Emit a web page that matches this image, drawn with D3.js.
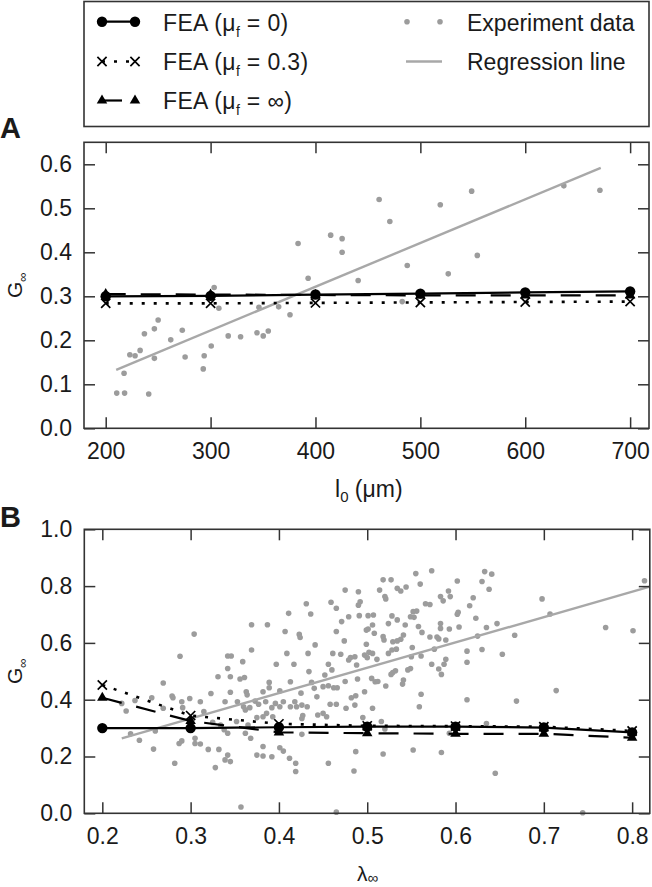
<!DOCTYPE html>
<html><head><meta charset="utf-8">
<script src="https://cdn.jsdelivr.net/npm/d3@7"></script>
<style>
body{margin:0;background:#fff}
svg{display:block}
text{font-family:"Liberation Sans",Arial,Helvetica,sans-serif;fill:#1a1a1a}
</style>
</head><body>
<svg id="c" width="652" height="887"></svg>
<script>
// ---------------- Panel A data ----------------
const aTicksX = [200, 300, 400, 500, 600, 700];
const aTicksY = [0, 0.1, 0.2, 0.3, 0.4, 0.5, 0.6];
const aFeaX   = [200, 300, 400, 500, 600, 700];
const aFea0   = [0.300, 0.301, 0.304, 0.306, 0.309, 0.311];
const aFea03  = [0.284, 0.284, 0.285, 0.286, 0.287, 0.288];
const aFeaInf = [0.305, 0.304, 0.303, 0.302, 0.302, 0.302];
const aExpX = [210.5,218,217.5,223,228,232.8,236.9,241,246.4,246.4,250,262,273,275.7,293,293.9,300.6,303.4,307.9,316.8,328.6,344.2,346.1,350.2,355,364.9,375.7,383.4,393,414.5,425.4,425.4,440.7,460.7,470.9,487.5,482.7,519,526.6,548.9,554.3,636.8,671.2];
const aExpY = [0.080,0.080,0.125,0.167,0.165,0.177,0.215,0.078,0.226,0.159,0.246,0.201,0.223,0.162,0.135,0.165,0.187,0.320,0.273,0.210,0.208,0.217,0.275,0.210,0.221,0.276,0.258,0.420,0.341,0.439,0.431,0.400,0.336,0.520,0.470,0.370,0.288,0.508,0.351,0.539,0.393,0.551,0.541];
const aRegX = [210, 672];
const aRegY = [0.133, 0.592];

// ---------------- Panel B data ----------------
const bTicksX = [0.2, 0.3, 0.4, 0.5, 0.6, 0.7, 0.8];
const bTicksY = [0, 0.2, 0.4, 0.6, 0.8, 1.0];
const bFeaX   = [0.2, 0.3, 0.4, 0.5, 0.6, 0.7, 0.8];
const bFea0   = [0.300, 0.300, 0.303, 0.305, 0.305, 0.302, 0.285];
const bFea03  = [0.452, 0.344, 0.315, 0.308, 0.307, 0.305, 0.290];
const bFeaInf = [0.407, 0.325, 0.285, 0.282, 0.280, 0.280, 0.266];
const bExpX = [
0.304,0.288,0.269,0.256,0.237,0.227,0.222,0.279,0.280,0.269,0.290,0.291,0.299,0.311,0.323,0.331,0.342,0.346,0.342,0.345,0.345,0.339,0.315,0.325,0.334,0.338,0.342,0.242,0.232,0.260,0.258,0.287,0.290,0.305,0.311,0.305,0.320,0.332,0.339,0.345,0.342,0.328,0.282,
0.369,0.387,0.369,0.359,0.361,0.356,0.363,0.364,0.360,0.362,0.367,0.373,0.353,0.382,0.385,0.389,0.389,0.397,0.401,0.405,0.407,0.411,0.409,0.413,0.417,0.423,0.424,0.431,0.436,0.433,0.434,0.441,0.437,0.440,0.443,0.425,0.418,0.413,0.420,0.426,0.432,0.392,0.393,0.386,0.401,0.396,0.377,0.375,0.382,0.352,0.365,0.362,0.368,0.382,0.375,0.382,0.392,0.401,0.405,0.412,0.419,0.419,0.426,0.427,0.426,0.357,0.444,0.450,0.454,0.458,0.465,0.450,0.456,0.462,0.466,0.452,0.460,0.456,0.461,0.465,0.459,0.465,0.471,0.475,0.479,0.474,0.470,0.475,0.479,0.481,0.486,0.488,0.489,0.482,0.487,0.497,0.476,0.486,0.456,0.485,0.487,0.465,0.490,0.490,0.492,0.491,0.501,0.499,0.501,0.499,0.502,0.497,0.500,0.495,
0.507,0.506,0.508,0.506,0.511,0.505,0.509,0.518,0.527,0.514,0.520,0.521,0.534,0.538,0.544,0.555,0.560,0.573,0.566,0.571,0.583,0.586,0.592,0.594,0.602,0.602,0.603,0.616,0.620,0.623,0.630,0.633,0.641,0.638,0.647,0.635,0.625,0.613,0.613,0.604,0.593,0.583,0.583,0.579,0.581,0.589,0.589,0.587,0.581,0.584,0.573,0.571,0.576,0.562,0.558,0.553,0.556,0.549,0.552,0.543,0.534,0.524,0.528,0.518,0.519,0.529,0.534,0.538,0.541,0.551,0.561,0.550,0.549,0.546,0.541,0.540,0.532,0.529,0.527,0.524,0.528,0.533,0.521,0.512,0.506,0.561,0.559,0.613,0.630,0.653,0.516,0.520,0.552,0.518,0.584,0.593,0.635,0.645,
0.667,0.698,0.707,0.714,0.669,0.770,0.801,0.814,0.744];
const bExpY = [
0.631,0.553,0.459,0.407,0.397,0.360,0.387,0.413,0.407,0.370,0.393,0.372,0.404,0.393,0.422,0.481,0.554,0.554,0.510,0.481,0.426,0.393,0.358,0.320,0.311,0.294,0.282,0.257,0.280,0.290,0.226,0.246,0.255,0.246,0.244,0.264,0.225,0.225,0.188,0.182,0.205,0.161,0.176,
0.664,0.664,0.575,0.534,0.478,0.473,0.428,0.417,0.375,0.364,0.372,0.395,0.393,0.428,0.393,0.442,0.461,0.525,0.431,0.393,0.640,0.704,0.563,0.463,0.525,0.630,0.619,0.738,0.702,0.563,0.499,0.593,0.461,0.440,0.410,0.423,0.393,0.375,0.375,0.381,0.375,0.372,0.340,0.352,0.375,0.387,0.384,0.337,0.340,0.323,0.311,0.282,0.264,0.235,0.205,0.202,0.199,0.231,0.219,0.194,0.176,0.147,0.334,0.344,0.278,0.022,0.346,0.352,0.340,0.384,0.384,0.446,0.449,0.442,0.442,0.487,0.505,0.525,0.563,0.640,0.743,0.722,0.675,0.786,0.692,0.607,0.560,0.464,0.540,0.548,0.551,0.522,0.473,0.407,0.414,0.428,0.370,0.381,0.176,0.149,0.217,0.004,0.780,0.733,0.745,0.696,0.696,0.645,0.649,0.595,0.567,0.557,0.548,0.337,
0.698,0.663,0.634,0.563,0.542,0.475,0.463,0.822,0.822,0.786,0.763,0.755,0.792,0.783,0.797,0.844,0.807,0.854,0.738,0.735,0.763,0.748,0.783,0.763,0.818,0.701,0.708,0.731,0.759,0.687,0.816,0.851,0.842,0.789,0.668,0.654,0.624,0.571,0.532,0.656,0.649,0.668,0.651,0.621,0.614,0.610,0.542,0.525,0.508,0.489,0.525,0.621,0.578,0.637,0.658,0.690,0.712,0.692,0.710,0.663,0.681,0.668,0.695,0.622,0.610,0.604,0.607,0.613,0.628,0.584,0.554,0.551,0.510,0.505,0.469,0.455,0.502,0.496,0.489,0.563,0.575,0.578,0.448,0.464,0.370,0.419,0.375,0.400,0.577,0.560,0.323,0.297,0.223,0.209,0.214,0.282,0.316,0.141,
0.627,0.755,0.702,0.432,0.395,0.654,0.643,0.819,0.002];
const bRegX = [0.222, 0.82];
const bRegY = [0.264, 0.798];

// ---------------- Legend entries ----------------
const legendLeft  = [{label: " = 0)", kind: "fea0"}, {label: " = 0.3)", kind: "fea03"}, {label: " = \u221E)", kind: "feaInf"}];
const legendRight = [{label: "Experiment data", kind: "exp"}, {label: "Regression line", kind: "reg"}];

// ---------------- Drawing ----------------
const svg = d3.select('#c');
const FONT = '"Liberation Sans",Arial,Helvetica,sans-serif';
const INK = '#1a1a1a', FRAME = '#333', DOT = '#9c9c9c', REG = '#a8a8a8';

const styles = {
  fea0:   {dash: null,    width: 2.2},
  fea03:  {dash: '3,9',   width: 2.6},
  feaInf: {dash: '20,15', width: 2.2}
};

function marker(g, kind, cx, cy) {
  if (kind === 'fea0') {
    g.append('circle').attr('cx', cx).attr('cy', cy).attr('r', 5.2).attr('fill', '#000');
  } else if (kind === 'fea03') {
    const s = 4.6;
    g.append('path').attr('d', `M${cx-s},${cy-s}L${cx+s},${cy+s}M${cx-s},${cy+s}L${cx+s},${cy-s}`)
      .attr('stroke', '#000').attr('stroke-width', 1.7).attr('fill', 'none');
  } else if (kind === 'feaInf') {
    g.append('path').attr('d', d3.symbol(d3.symbolTriangle, 48)())
      .attr('transform', `translate(${cx},${cy})`).attr('fill', '#000');
  }
}

function drawPanel(o) {
  const g = svg.append('g');
  const [xl, xr] = o.x.range();
  const [yb, yt] = o.y.range();

  g.append('g').selectAll('circle').data(d3.zip(o.expX, o.expY)).join('circle')
    .attr('cx', d => o.x(d[0])).attr('cy', d => o.y(d[1])).attr('r', 2.8).attr('fill', DOT);

  const line = d3.line().x(d => o.x(d[0])).y(d => o.y(d[1]));
  g.append('path').datum(d3.zip(o.regX, o.regY)).attr('d', line)
    .attr('fill', 'none').attr('stroke', REG).attr('stroke-width', 2.4);

  const series = [['feaInf', o.feaInf], ['fea03', o.fea03], ['fea0', o.fea0]];
  series.forEach(([k, vals]) => {
    const st = styles[k];
    g.append('path').datum(d3.zip(o.feaX, vals)).attr('d', line)
      .attr('fill', 'none').attr('stroke', '#000').attr('stroke-width', st.width)
      .attr('stroke-dasharray', st.dash);
  });
  series.forEach(([k, vals]) => {
    o.feaX.forEach((xv, i) => marker(g, k, o.x(xv), o.y(vals[i])));
  });

  const styleAxis = (ax) => {
    ax.select('.domain').remove();
    ax.selectAll('line').attr('stroke', FRAME).attr('stroke-width', 1.5);
    ax.selectAll('text').attr('font-size', 23).attr('font-family', FONT).attr('fill', INK);
  };
  styleAxis(g.append('g').attr('transform', `translate(0,${yb})`)
    .call(d3.axisBottom(o.x).tickValues(o.xTicks).tickFormat(o.xFmt).tickSizeInner(-11).tickSizeOuter(0).tickPadding(14)));
  styleAxis(g.append('g').attr('transform', `translate(0,${yt})`)
    .call(d3.axisTop(o.x).tickValues(o.xTicks).tickFormat('').tickSizeInner(-11).tickSizeOuter(0)));
  styleAxis(g.append('g').attr('transform', `translate(${xl},0)`)
    .call(d3.axisLeft(o.y).tickValues(o.yTicks).tickFormat(d3.format('.1f')).tickSizeInner(-11).tickSizeOuter(0).tickPadding(12)));
  styleAxis(g.append('g').attr('transform', `translate(${xr},0)`)
    .call(d3.axisRight(o.y).tickValues(o.yTicks).tickFormat('').tickSizeInner(-11).tickSizeOuter(0)));

  g.append('rect').attr('x', xl).attr('y', yt).attr('width', xr - xl).attr('height', yb - yt)
    .attr('fill', 'none').attr('stroke', FRAME).attr('stroke-width', 1.6);

  const yc = (yb + yt) / 2;
  const yt1 = g.append('text').attr('transform', `translate(22,${yc}) rotate(-90)`)
    .attr('text-anchor', 'middle').attr('font-size', 21);
  yt1.append('tspan').text('G');
  yt1.append('tspan').attr('dy', 5).attr('font-size', 13).text('\u221E');

  const xt = g.append('text').attr('x', o.xTitleX).attr('y', o.xTitleY).attr('font-size', o.xTitleSize);
  xt.append('tspan').text(o.xMain);
  xt.append('tspan').attr('dy', o.subDy).attr('font-size', 15).text(o.xSub);
  if (o.xRest) xt.append('tspan').attr('dy', -o.subDy).text(o.xRest);

  svg.append('text').attr('x', 0).attr('y', o.letterY).attr('font-size', 29)
    .attr('font-weight', 'bold').text(o.letter);
}

drawPanel({
  x: d3.scaleLinear().domain([179.3, 718]).range([84, 649]),
  y: d3.scaleLinear().domain([0, 0.65]).range([428.3, 142.3]),
  xTicks: aTicksX, yTicks: aTicksY, xFmt: d3.format('d'),
  expX: aExpX, expY: aExpY, regX: aRegX, regY: aRegY,
  feaX: aFeaX, fea0: aFea0, fea03: aFea03, feaInf: aFeaInf,
  xMain: 'l', xSub: '0', xRest: ' (\u03BCm)', xTitleX: 335, xTitleY: 497, xTitleSize: 23, subDy: 5,
  letter: 'A', letterY: 138
});

drawPanel({
  x: d3.scaleLinear().domain([0.1796, 0.82]).range([84.3, 649.8]),
  y: d3.scaleLinear().domain([0, 1]).range([813.3, 529.3]),
  xTicks: bTicksX, yTicks: bTicksY, xFmt: d3.format('.1f'),
  expX: bExpX, expY: bExpY, regX: bRegX, regY: bRegY,
  feaX: bFeaX, fea0: bFea0, fea03: bFea03, feaInf: bFeaInf,
  xMain: '\u03BB', xSub: '\u221E', xRest: null, xTitleX: 357, xTitleY: 881, xTitleSize: 21, subDy: 2,
  letter: 'B', letterY: 527
});

// ---------------- Legend ----------------
const lg = svg.append('g');
lg.append('rect').attr('x', 84).attr('y', 1.5).attr('width', 565).attr('height', 125)
  .attr('fill', 'none').attr('stroke', FRAME).attr('stroke-width', 1.6);

const rowY = [21.7, 61.5, 100.5];
const rowBase = [30.5, 69.5, 108.5];
legendLeft.forEach((e, i) => {
  const st = styles[e.kind];
  lg.append('line').attr('x1', 102).attr('x2', 135).attr('y1', rowY[i]).attr('y2', rowY[i])
    .attr('stroke', '#000').attr('stroke-width', st.width).attr('stroke-dasharray', st.dash);
  marker(lg, e.kind, 102, rowY[i]);
  marker(lg, e.kind, 135, rowY[i]);
  const t = lg.append('text').attr('x', 163).attr('y', rowBase[i]).attr('font-size', 23)
    .attr('letter-spacing', 0.35);
  t.append('tspan').text('FEA (\u03BC');
  t.append('tspan').attr('dy', 6).attr('font-size', 14).text('f');
  t.append('tspan').attr('dy', -6).text(e.label);
});
legendRight.forEach((e, i) => {
  if (e.kind === 'exp') {
    [407, 440].forEach(cx => lg.append('circle').attr('cx', cx).attr('cy', rowY[i]).attr('r', 2.8).attr('fill', DOT));
  } else {
    lg.append('line').attr('x1', 406).attr('x2', 442).attr('y1', rowY[i]).attr('y2', rowY[i])
      .attr('stroke', REG).attr('stroke-width', 2.4);
  }
  lg.append('text').attr('x', 467).attr('y', rowBase[i]).attr('font-size', 23).text(e.label);
});
</script>
</body></html>
